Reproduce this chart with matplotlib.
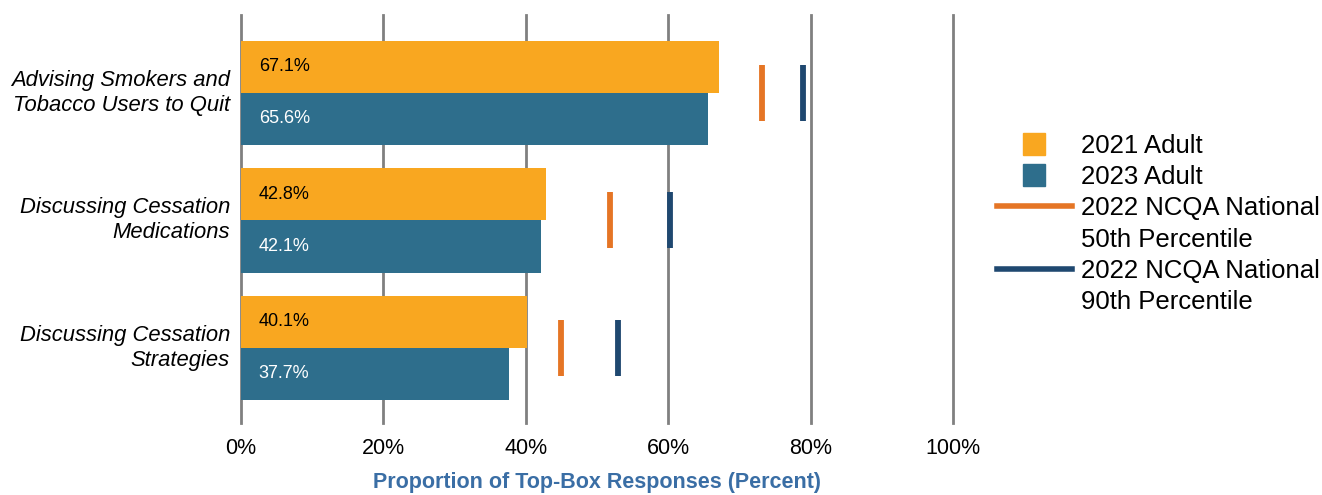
import numpy as np
import matplotlib.pyplot as plt
from matplotlib.lines import Line2D
from matplotlib.transforms import ScaledTranslation

plt.rcParams['font.family'] = ['Liberation Sans', 'DejaVu Sans']

categories = ["Advising Smokers and\nTobacco Users to Quit",
              "Discussing Cessation\nMedications",
              "Discussing Cessation\nStrategies"]
adult_2021 = [67.1, 42.8, 40.1]
adult_2023 = [65.6, 42.1, 37.7]
ncqa_50th = [73.2, 51.8, 44.9]
ncqa_90th = [78.9, 60.3, 52.9]
xticks = [0, 20, 40, 60, 80, 100]

c21 = '#F9A720'
c23 = '#2E6E8C'
c50 = '#E57525'
c90 = '#1F4870'

fig = plt.figure(figsize=(13.22, 4.95), dpi=100)
ax = fig.add_axes([241/1322, 1-423/495, 712/1322, 408/495])

y = np.arange(len(categories))
h = 0.41
ax.barh(y - h/2, adult_2021, height=h, color=c21, zorder=3)
ax.barh(y + h/2, adult_2023, height=h, color=c23, zorder=3)

for i in range(len(categories)):
    ax.text(2.5, y[i] - h/2, f"{adult_2021[i]:.1f}%", va='center', ha='left',
            fontsize=13, color='black', zorder=4)
    ax.text(2.5, y[i] + h/2, f"{adult_2023[i]:.1f}%", va='center', ha='left',
            fontsize=13, color='white', zorder=4)

# percentile markers
ax.errorbar(ncqa_50th, y, yerr=0.22, fmt='none', ecolor=c50, elinewidth=4.2, capsize=0, zorder=4)
ax.errorbar(ncqa_90th, y, yerr=0.22, fmt='none', ecolor=c90, elinewidth=4.2, capsize=0, zorder=4)

ax.set_xlim(0, 100)
ax.set_ylim(2.59, -0.61)
ax.set_xticks(xticks)
ax.set_xticklabels([f"{t}%" for t in xticks], fontsize=15.5)
ax.set_yticks(y)
ax.set_yticklabels(categories, fontsize=15.8, style='italic', linespacing=1.27,
                   va='center')
# nudge the category labels down a little
for lbl in ax.get_yticklabels():
    lbl.set_transform(lbl.get_transform() + ScaledTranslation(0, -2.5/100, fig.dpi_scale_trans))
ax.tick_params(axis='both', length=0)
ax.tick_params(axis='y', pad=8)
ax.tick_params(axis='x', pad=11)
ax.grid(axis='x', color='#808080', linewidth=2, zorder=0)
for gl in ax.get_xgridlines():
    gl.set_clip_on(False)
for s in ax.spines.values():
    s.set_visible(False)
ax.set_xlabel("Proportion of Top-Box Responses (Percent)", fontsize=15.5,
              fontweight='bold', color='#3A6EA5', labelpad=9)

handles = [
    Line2D([], [], marker='s', linestyle='none', markersize=16.5, color=c21),
    Line2D([], [], marker='s', linestyle='none', markersize=16.5, color=c23),
    Line2D([], [], color=c50, linewidth=4),
    Line2D([], [], linestyle='none'),
    Line2D([], [], color=c90, linewidth=4),
    Line2D([], [], linestyle='none'),
]
labels = ["2021 Adult", "2023 Adult", "2022 NCQA National", "50th Percentile",
          "2022 NCQA National", "90th Percentile"]
fig.legend(handles, labels, loc='upper left', bbox_to_anchor=(997/1322, 1-134/495),
           frameon=False, fontsize=18.5, handlelength=2.9, handletextpad=0.35,
           labelspacing=0.28, borderaxespad=0, borderpad=0)

fig.savefig('out.png', dpi=100)
